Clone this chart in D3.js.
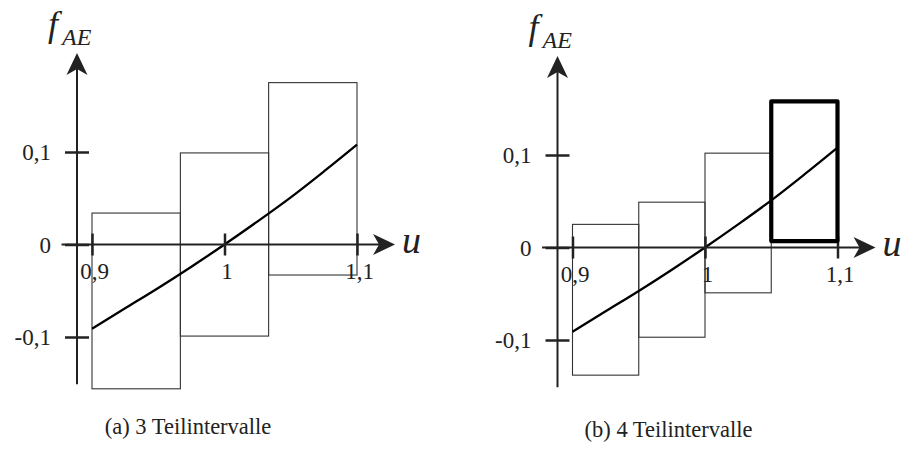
<!DOCTYPE html>
<html>
<head>
<meta charset="utf-8">
<script src="https://cdn.jsdelivr.net/npm/d3@7"></script>
<style>
  body { margin: 0; background: #fff; }
  svg { display: block; }
</style>
</head>
<body>
<svg id="chart" width="906" height="459"></svg>
<script>
// Function f_AE(u) sampled on [0.9, 1.1]
const curveU = [0.9, 0.925, 0.95, 0.975, 1.0, 1.025, 1.05, 1.075, 1.1];
const curveF = [-0.091, -0.069, -0.047, -0.024, 0, 0.025, 0.051, 0.079, 0.108];

// Interval enclosures, 3 sub-intervals
const edgesA = [0.9, 0.9667, 1.0333, 1.1];
const lowA  = [-0.156, -0.099, -0.033];
const highA = [0.034, 0.099, 0.175];

// Interval enclosures, 4 sub-intervals (last one excludes zero)
const edgesB = [0.9, 0.95, 1.0, 1.05, 1.1];
const lowB  = [-0.138, -0.097, -0.049, 0.007];
const highB = [0.025, 0.049, 0.102, 0.158];
const highlightB = 3;

const xTicks = [0.9, 1, 1.1];
const yTicks = [-0.1, 0, 0.1];
const captions = ["(a) 3 Teilintervalle", "(b) 4 Teilintervalle"];

// Axis extents in data units
const xAxisRange = [0.877, 1.1287];
const yAxisRange = [-0.151, 0.207];

const SERIF = "Liberation Serif, Times New Roman, serif";

const fmt = d3.formatLocale({
  decimal: ",", thousands: ".", grouping: [3], currency: ["", " €"], minus: "-"
}).format(".1~f");

const svg = d3.select("#chart");
const curveData = curveU.map((u, i) => [u, curveF[i]]);

function panel(g, edges, low, high, highlight, caption) {
  const x = d3.scaleLinear().domain([0.9, 1.1]).range([92, 357]);
  const y = d3.scaleLinear().domain([-0.1, 0.1]).range([337, 152]);

  const boxes = low.map((lo, i) => ({ x0: edges[i], x1: edges[i + 1], lo, hi: high[i], i }));

  // thin enclosure boxes
  g.append("g").selectAll("rect")
    .data(boxes.filter(d => d.i !== highlight))
    .join("rect")
      .attr("x", d => x(d.x0))
      .attr("y", d => y(d.hi))
      .attr("width", d => x(d.x1) - x(d.x0))
      .attr("height", d => y(d.lo) - y(d.hi))
      .attr("fill", "none")
      .attr("stroke", "#333")
      .attr("stroke-width", 1.1);

  // the function
  g.append("path")
    .datum(curveData)
    .attr("fill", "none")
    .attr("stroke", "#000")
    .attr("stroke-width", 2.3)
    .attr("d", d3.line().x(d => x(d[0])).y(d => y(d[1])).curve(d3.curveMonotoneX));

  // axis lines with arrowheads
  const arrow = "M0,0 L-22,-10.5 L-16,0 L-22,10.5 Z";
  const axisG = g.append("g").attr("stroke", "#222").attr("stroke-width", 2);
  axisG.append("line")
    .attr("x1", x(xAxisRange[0])).attr("x2", x(xAxisRange[1]) - 14)
    .attr("y1", y(0)).attr("y2", y(0));
  axisG.append("line")
    .attr("x1", x(0.9) - 15).attr("x2", x(0.9) - 15)
    .attr("y1", y(yAxisRange[0])).attr("y2", y(yAxisRange[1]) + 14);
  g.append("path").attr("d", arrow).attr("fill", "#222")
    .attr("transform", `translate(${x(xAxisRange[1])},${y(0)})`);
  g.append("path").attr("d", arrow).attr("fill", "#222")
    .attr("transform", `translate(${x(0.9) - 15},${y(yAxisRange[1])}) rotate(-90)`);

  // x ticks
  const gx = g.append("g")
    .attr("transform", `translate(0,${y(0)})`)
    .call(d3.axisBottom(x).tickValues(xTicks).tickFormat(fmt).tickSize(0));
  gx.select(".domain").remove();
  gx.selectAll(".tick line").attr("y1", -11).attr("y2", 11)
    .attr("stroke", "#222").attr("stroke-width", 2.5);
  gx.selectAll(".tick text").attr("y", 34).attr("dy", 0).attr("x", 2)
    .attr("fill", "#222");

  // y ticks
  const gy = g.append("g")
    .attr("transform", `translate(${x(0.9) - 15},0)`)
    .call(d3.axisLeft(y).tickValues(yTicks).tickFormat(fmt).tickSize(0));
  gy.select(".domain").remove();
  gy.selectAll(".tick line").attr("x1", -12).attr("x2", 12)
    .attr("stroke", "#222").attr("stroke-width", 2.5);
  gy.selectAll(".tick text").attr("x", -26).attr("dy", "0.33em")
    .attr("fill", "#222");

  [gx, gy].forEach(a => a.attr("font-family", SERIF).attr("font-size", 23));

  // highlighted box on top
  g.append("g").selectAll("rect")
    .data(boxes.filter(d => d.i === highlight))
    .join("rect")
      .attr("x", d => x(d.x0))
      .attr("y", d => y(d.hi))
      .attr("width", d => x(d.x1) - x(d.x0))
      .attr("height", d => y(d.lo) - y(d.hi))
      .attr("fill", "none")
      .attr("stroke", "#000")
      .attr("stroke-width", 4.2)
      .attr("stroke-linejoin", "round");

  // axis titles
  g.append("text").text("f")
    .attr("x", 48).attr("y", 36)
    .attr("font-family", SERIF).attr("font-style", "italic")
    .attr("font-size", 36).attr("fill", "#222");
  g.append("text").text("AE")
    .attr("x", 62).attr("y", 45)
    .attr("font-family", SERIF).attr("font-style", "italic")
    .attr("font-size", 24).attr("fill", "#222");
  g.append("text").text("u")
    .attr("x", x(xAxisRange[1]) + 7).attr("y", y(0) + 8)
    .attr("font-family", SERIF).attr("font-style", "italic")
    .attr("font-size", 38).attr("fill", "#222");

  // caption
  g.append("text").text(caption)
    .attr("x", 188).attr("y", 434)
    .attr("text-anchor", "middle")
    .attr("font-family", SERIF)
    .attr("font-size", 22.5).attr("fill", "#222");
}

panel(svg.append("g"), edgesA, lowA, highA, -1, captions[0]);
panel(svg.append("g").attr("transform", "translate(480.5,3)"), edgesB, lowB, highB, highlightB, captions[1]);
</script>
</body>
</html>
